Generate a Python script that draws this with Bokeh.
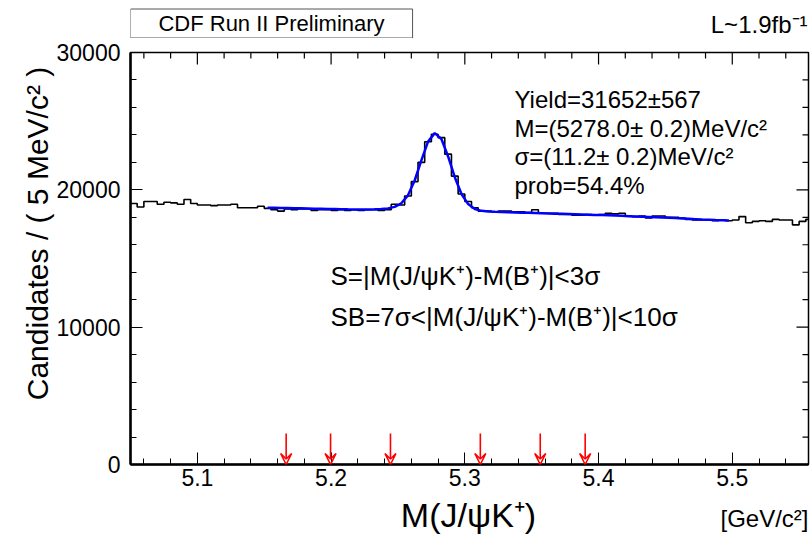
from bokeh.plotting import figure
from bokeh.models import (Range1d, Label, Arrow, VeeHead,
                          SingleIntervalTicker)
from bokeh.layouts import column
from bokeh.embed import file_html
from bokeh.resources import INLINE
import math

# ---------------- data ----------------
bin_start = 5.05          # GeV/c^2
bin_width = 0.005         # 5 MeV/c^2
counts = [
    19000, 18750, 19150, 19150, 18950, 19100, 19050, 18950, 19300, 19000,
    18900, 18900, 18850, 18900, 18900, 18950, 18700, 18700, 18700, 18800,
    18650, 18550, 18450, 18600, 18550, 18600,
    18600, 18500, 18550, 18550, 18500, 18550, 18500, 18550, 18500, 18550,
    18550, 18500, 18550,
    18950, 18900, 19550, 20600, 22000, 23500, 24050, 23800, 22600, 21000,
    19700, 19150, 18700,
    18450, 18450, 18400, 18450, 18450, 18400, 18400, 18350, 18550, 18300,
    18300, 18300, 18200, 18200, 18150, 18150, 18200, 18150, 18200, 18300,
    18250, 18300, 18100, 18050, 18100,
    17950, 18100, 18100, 18000, 18000, 17950, 17850, 17800, 17800, 17800,
    17750, 17800, 17750, 17800, 18050, 17600, 17700, 17750, 17700, 17850,
    17800, 17800, 17450, 17700, 17850, 17750,
]
fit_first_bin = 20
fit_values = [
    18700, 18690, 18680, 18670, 18660, 18650, 18640, 18630, 18620, 18610,
    18600, 18590, 18580, 18575, 18570, 18570, 18580, 18600, 18650, 18760,
    19020, 19600, 20680, 22150, 23510, 24130, 23700, 22430, 20920, 19700,
    18960, 18600, 18470, 18420, 18400, 18385, 18370, 18355, 18340, 18325,
    18310, 18295, 18280, 18265, 18250, 18235, 18220, 18205, 18190, 18175,
    18160, 18145, 18125, 18105, 18085, 18065, 18045, 18025, 18005, 17985,
    17965, 17940, 17915, 17890, 17865, 17840, 17820, 17800, 17785, 17770,
]
arrow_x = [5.1664, 5.1996, 5.2444, 5.3116, 5.3564, 5.3900]
stats_lines = ["Yield=31652\u00b1567",
               "M=(5278.0\u00b1 0.2)MeV/c\u00b2",
               "\u03c3=(11.2\u00b1 0.2)MeV/c\u00b2",
               "prob=54.4%"]
region_lines = ["S=|M(J/\u03c8K\u207a)-M(B\u207a)|<3\u03c3",
                "SB=7\u03c3<|M(J/\u03c8K\u207a)-M(B\u207a)|<10\u03c3"]

# ---------------- layout ----------------
W, H = 812, 534
TOP_H = 38                 # top strip (title box, luminosity)
FL, FR, FT, FB = 130, 808, 52, 464   # frame in page pixels
XAX = 31                   # height of the x-axis panel
BOT_Y0 = FB + XAX          # page y where the bottom strip starts
X0, X1 = 5.05, 5.557
Y0, Y1 = 0, 30000
X_MAJOR, X_MINOR = 0.1, 0.02
Y_MAJOR, Y_MINOR = 10000, 2000
FONT = "Liberation Sans"


def sy(py):
    return Y0 + (FB - py) * (Y1 - Y0) / (FB - FT)


def strip(height, y_top):
    # a text-only strip whose frame is aligned with the main frame;
    # its data coordinates are page pixels
    f = figure(width=W, height=height, x_range=Range1d(FL, FR),
               y_range=Range1d(y_top + height, y_top),
               x_axis_type=None, y_axis_type=None,
               min_border_left=FL, min_border_right=W - FR,
               min_border_top=0, min_border_bottom=0,
               output_backend="svg", toolbar_location=None,
               background_fill_color="white", border_fill_color="white")
    f.title.visible = False
    f.outline_line_color = None
    f.xgrid.visible = False
    f.ygrid.visible = False
    return f


# ---- top strip ----
top = strip(TOP_H, 0)
top.add_layout(Label(x=271, y=23, text="CDF Run II Preliminary", text_font=FONT,
                     text_font_size="22px", text_align="center",
                     text_baseline="middle", text_color="black",
                     border_line_color="#555555", border_line_width=1,
                     background_fill_color="white",
                     padding=dict(left=28, right=28, top=2, bottom=2)))
top.add_layout(Label(x=807, y=24, text="L~1.9fb\u207b\u00b9", text_font=FONT,
                     text_font_size="24px", text_align="right",
                     text_baseline="middle", text_color="black"))

# ---- main plot ----
p = figure(width=W, height=(FB - TOP_H) + XAX,
           x_range=Range1d(X0, X1), y_range=Range1d(Y0, Y1),
           output_backend="svg", toolbar_location=None,
           min_border_left=FL, min_border_right=W - FR,
           min_border_top=FT - TOP_H, min_border_bottom=XAX,
           background_fill_color="white", border_fill_color="white")
p.title.visible = False
p.xgrid.visible = False
p.ygrid.visible = False
p.outline_line_color = "black"
p.outline_line_width = 1.5

p.xaxis.ticker = SingleIntervalTicker(interval=X_MAJOR, num_minor_ticks=5)
p.yaxis.ticker = SingleIntervalTicker(interval=Y_MAJOR, num_minor_ticks=5)
for ax in (p.xaxis, p.yaxis):
    ax.axis_line_width = 2.5
    ax.axis_line_color = "black"
    ax.major_tick_in = 12
    ax.major_tick_out = 0
    ax.minor_tick_in = 6
    ax.minor_tick_out = 0
    ax.major_tick_line_color = "black"
    ax.minor_tick_line_color = "black"
    ax.major_label_text_font = FONT
    ax.major_label_text_font_size = "23px"
    ax.major_label_text_color = "black"
p.yaxis.major_label_standoff = 10
p.xaxis.major_label_standoff = 4

# mirrored ticks on the top and right edges of the frame
px_per_x = (FR - FL) / (X1 - X0)
px_per_y = (FB - FT) / (Y1 - Y0)
tx, ty0, ty1 = [], [], []
n = 0
while True:
    xt = 5.06 + n * X_MINOR
    if xt > X1:
        break
    is_major = abs((xt / X_MAJOR) - round(xt / X_MAJOR)) < 1e-6
    length = (12 if is_major else 6) / px_per_y
    tx.append(xt); ty0.append(Y1); ty1.append(Y1 - length)
    n += 1
p.segment(x0=tx, y0=ty0, x1=tx, y1=ty1, line_color="black", line_width=1.2)
ry, rx0, rx1 = [], [], []
for k in range(1, int(Y1 / Y_MINOR)):
    yt = k * Y_MINOR
    length = (12 if yt % Y_MAJOR == 0 else 6) / px_per_x
    ry.append(yt); rx0.append(X1); rx1.append(X1 - length)
p.segment(x0=rx0, y0=ry, x1=rx1, y1=ry, line_color="black", line_width=1.2)

# histogram (step)
edges = [bin_start + i * bin_width for i in range(len(counts) + 1)]
step_y = counts + [counts[-1]]
p.step(edges, step_y, mode="after", line_color="black", line_width=1.6)

# fit curve
fit_x = [bin_start + (fit_first_bin + i + 0.5) * bin_width for i in range(len(fit_values))]
p.line(fit_x, fit_values, line_color="#0000ff", line_width=2.5)

# arrows
for xa in arrow_x:
    p.add_layout(Arrow(x_start=xa, y_start=sy(433), x_end=xa, y_end=0,
                       line_color="red", line_width=1.6,
                       end=VeeHead(size=11, line_color="red", line_width=1.6,
                                   fill_color=None)))


def lab_in(text, px, py, size, align="left"):
    p.add_layout(Label(x=px - FL, y=FB - py, x_units="screen", y_units="screen",
                       text=text, text_font=FONT, text_font_size=size,
                       text_align=align, text_baseline="middle",
                       text_color="black"))


for i, t in enumerate(stats_lines):
    lab_in(t, 514, 99 + 28.5 * i, "24px")
lab_in(region_lines[0], 330, 275, "26px")
lab_in(region_lines[1], 330, 316, "26px")

# y title in the left side panel
p.add_layout(Label(x=17, y=FB - 233, x_units="screen", y_units="screen",
                   text="Candidates / ( 5 MeV/c\u00b2 )", text_font=FONT,
                   text_font_size="30px", text_align="center",
                   text_baseline="middle", angle=math.pi / 2,
                   text_color="black"), "left")

# ---- bottom strip ----
bot = strip(H - BOT_Y0, BOT_Y0)
bot.add_layout(Label(x=468, y=514.5, text="M(J/\u03c8K\u207a)", text_font=FONT,
                     text_font_size="34px", text_align="center",
                     text_baseline="middle", text_color="black"))
bot.add_layout(Label(x=808, y=518, text="[GeV/c\u00b2]", text_font=FONT,
                     text_font_size="24px", text_align="right",
                     text_baseline="middle", text_color="black"))

layout = column(top, p, bot, spacing=0)
open("out.html", "w").write(file_html(layout, INLINE))
